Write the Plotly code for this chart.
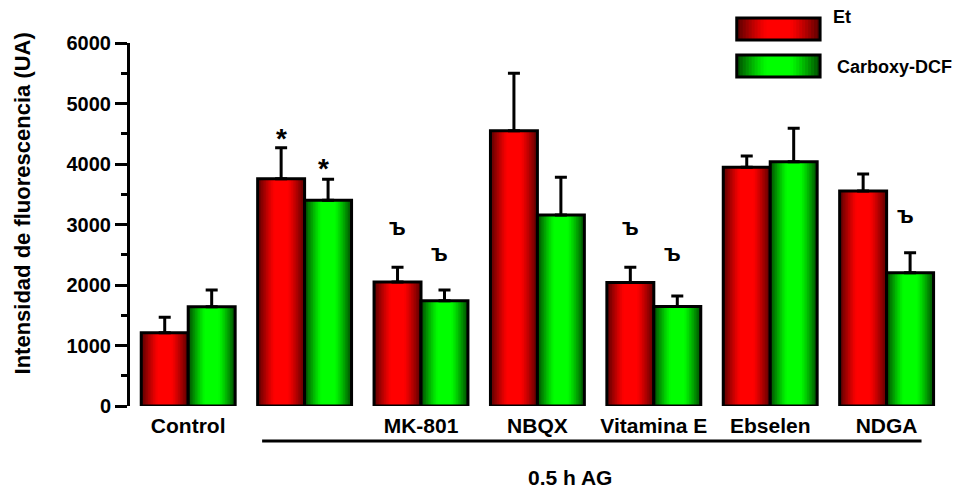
import plotly.graph_objects as go

# ---------------- data ----------------
categories = ["Control", "0.5 h AG", "MK-801", "NBQX", "Vitamina E", "Ebselen", "NDGA"]
tick_labels = ["Control", "", "MK-801", "NBQX", "Vitamina E", "Ebselen", "NDGA"]
series_names = ["Et", "Carboxy-DCF"]
et_values = [1212, 3757, 2050, 4551, 2040, 3945, 3554]
et_errors = [254, 512, 243, 948, 253, 187, 281]
dcf_values = [1641, 3400, 1741, 3157, 1645, 4038, 2203]
dcf_errors = [276, 347, 176, 623, 175, 552, 331]
y_ticks = [0, 1000, 2000, 3000, 4000, 5000, 6000]

sig_index = [1, 1, 2, 2, 4, 4, 6]
sig_series = [0, 1, 0, 1, 0, 1, 1]
sig_text = ["*", "*", "ъ", "ъ", "ъ", "ъ", "ъ"]
sig_y = [4420, 3920, 2959, 2534, 2963, 2534, 3157]

# ---------------- style ----------------
FONT = "Liberation Sans, Arial, sans-serif"
BW = 0.4034
LAYERS = 14
RED = ((255, 0, 0), (85, 0, 0))
GREEN = ((0, 255, 0), (0, 70, 0))


def shade(pal, d):
    bright, dark = pal
    t = max(0.0, (d - 0.28) / 0.72) ** 1.2
    c = [round(b + (k - b) * t) for b, k in zip(bright, dark)]
    return f"rgb({c[0]},{c[1]},{c[2]})"


fig = go.Figure()

for s, (vals, errs, pal, base) in enumerate([
    (et_values, et_errors, RED, -BW),
    (dcf_values, dcf_errors, GREEN, 0.0),
]):
    for k in range(LAYERS):
        f = 1 - k / LAYERS
        w = BW * f
        fig.add_bar(
            x=categories, y=vals, width=w, offset=base + (BW - w) / 2,
            marker=dict(color=shade(pal, f - 0.5 / LAYERS), line=dict(width=0)),
            showlegend=False, hoverinfo="skip",
        )
    fig.add_bar(
        x=categories, y=vals, width=BW, offset=base, name=series_names[s],
        marker=dict(color="rgba(0,0,0,0)", line=dict(color="black", width=3)),
        error_y=dict(type="data", array=errs, arrayminus=[0] * len(errs),
                     symmetric=False, color="black", thickness=3, width=6),
        showlegend=False,
    )

annotations = []
for i, s, t, y in zip(sig_index, sig_series, sig_text, sig_y):
    annotations.append(dict(
        x=i + (-BW / 2 if s == 0 else BW / 2), y=y, xref="x", yref="y",
        text=t, showarrow=False, xanchor="center", yanchor="middle",
        xshift=0 if s == 0 else -5,
        font=dict(family=FONT, size=28 if t == "*" else 23, color="black", weight="bold"),
    ))

annotations.append(dict(
    x=-0.133, y=0.559, xref="paper", yref="paper", textangle=-90,
    text="Intensidad de fluorescencia (UA)", showarrow=False,
    xanchor="center", yanchor="middle",
    font=dict(family=FONT, size=22, color="black", weight="bold"),
))
annotations.append(dict(
    x=0.544, y=-0.198, xref="paper", yref="paper", text="0.5 h AG",
    showarrow=False, xanchor="center", yanchor="middle",
    font=dict(family=FONT, size=21, color="black", weight="bold"),
))

shapes = [dict(type="line", xref="x", yref="paper", x0=0.635, x1=6.30,
               y0=-0.0964, y1=-0.0964, line=dict(color="black", width=3))]

# custom legend boxes
leg_x0, leg_x1 = 0.750, 0.853
leg_rows = [(1.069, 1.008, RED, 0.866, 1.072), (0.967, 0.906, GREEN, 0.872, 0.934)]
for (ya, yb, pal, tx, ty), name in zip(leg_rows, series_names):
    cx = (leg_x0 + leg_x1) / 2
    hw = (leg_x1 - leg_x0) / 2
    for k in range(LAYERS):
        f = 1 - k / LAYERS
        shapes.append(dict(type="rect", xref="paper", yref="paper",
                           x0=cx - hw * f, x1=cx + hw * f, y0=yb, y1=ya,
                           fillcolor=shade(pal, f - 0.5 / LAYERS), line=dict(width=0)))
    shapes.append(dict(type="rect", xref="paper", yref="paper",
                       x0=leg_x0, x1=leg_x1, y0=yb, y1=ya,
                       fillcolor="rgba(0,0,0,0)", line=dict(color="black", width=3)))
    annotations.append(dict(
        x=tx, y=ty, xref="paper", yref="paper", text=name, showarrow=False,
        xanchor="left", yanchor="middle",
        font=dict(family=FONT, size=18, color="black", weight="bold"),
    ))

fig.update_layout(
    width=956, height=489,
    margin=dict(l=130, r=17, t=43, b=83),
    paper_bgcolor="white", plot_bgcolor="white",
    barmode="overlay",
    xaxis=dict(
        range=[-0.5, 6.45], tickvals=categories, ticktext=tick_labels,
        showline=False, showgrid=False, zeroline=False, ticks="",
        ticklabelstandoff=5,
        tickfont=dict(family=FONT, size=21, color="black", weight="bold"),
    ),
    yaxis=dict(
        range=[0, 6000], tickvals=y_ticks, showline=True, linecolor="black",
        linewidth=3, ticks="outside", ticklen=12, tickwidth=3, tickcolor="black",
        minor=dict(ticks="outside", ticklen=6, tickwidth=3, dtick=500, tickcolor="black"),
        showgrid=False, zeroline=False,
        tickfont=dict(family=FONT, size=20, color="black", weight="bold"),
    ),
    shapes=shapes, annotations=annotations,
)

fig.write_html("out.html")
